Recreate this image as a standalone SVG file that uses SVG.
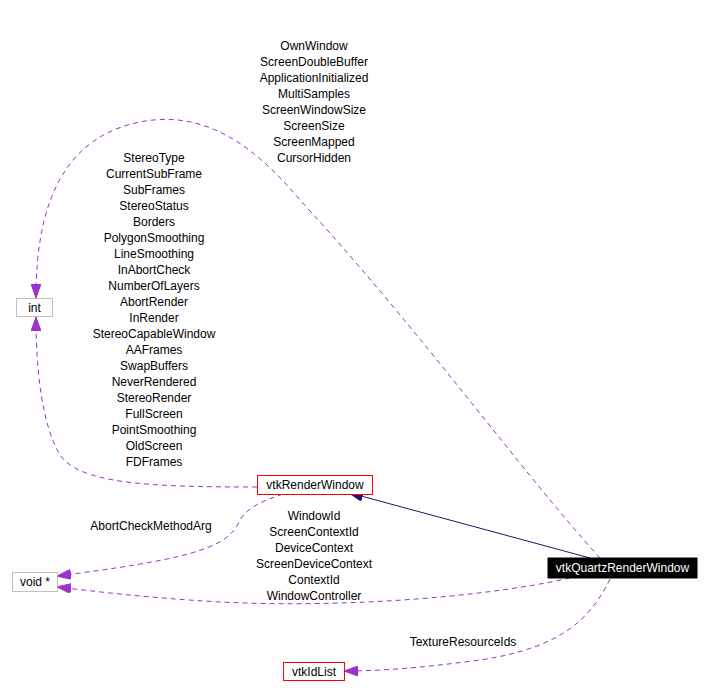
<svg xmlns="http://www.w3.org/2000/svg" width="712" height="697" viewBox="0 0 712 697">
<style>
text{font-family:"Liberation Sans",Arial,sans-serif;font-size:12px;fill:#000;text-anchor:middle}
.dep{fill:none;stroke:#9a32cd;stroke-width:1;stroke-dasharray:5,4}
.inh{fill:none;stroke:#191970;stroke-width:1}
.box{fill:#fff;stroke:#ff0000;stroke-width:1}
.gbox{fill:#fff;stroke:#bfbfbf;stroke-width:1}
</style>
<defs>
<marker id="pa" markerWidth="14" markerHeight="10" refX="13" refY="5" orient="auto" markerUnits="userSpaceOnUse">
<path d="M0,0 L14,5 L0,10 Z" fill="#9a32cd" stroke="#9a32cd"/>
</marker>
<marker id="na" markerWidth="14" markerHeight="10" refX="13" refY="5" orient="auto" markerUnits="userSpaceOnUse">
<path d="M0,0 L14,5 L0,10 Z" fill="#191970" stroke="#191970"/>
</marker>
</defs>
<rect width="712" height="697" fill="#fff"/>
<g id="connectors">
<path class="dep" marker-end="url(#pa)" d="M600,558 C520,470 420,330 300,200 C250,140 200,110 140,122 C60,138 36,210 36,297"/>
<path class="dep" marker-end="url(#pa)" d="M257,487 C150,487 80,484 60,455 C42,425 36,370 36,318"/>
<path class="dep" marker-end="url(#pa)" d="M283,494 C260,502 245,508 238,524 C225,550 180,560 58,576"/>
<path class="dep" marker-end="url(#pa)" d="M570,578 C480,598 340,608 220,602 C150,598 100,592 58,587"/>
<path class="inh" marker-end="url(#na)" d="M590,558 L350,493"/>
<path class="dep" marker-end="url(#pa)" d="M610,579 C590,620 560,648 480,660 C420,668 380,671 345,671"/>
</g>
<g id="labels">
<text x="314" y="50">OwnWindow</text>
<text x="314" y="66">ScreenDoubleBuffer</text>
<text x="314" y="82">ApplicationInitialized</text>
<text x="314" y="98">MultiSamples</text>
<text x="314" y="114">ScreenWindowSize</text>
<text x="314" y="130">ScreenSize</text>
<text x="314" y="146">ScreenMapped</text>
<text x="314" y="162">CursorHidden</text>
<text x="154" y="162">StereoType</text>
<text x="154" y="178">CurrentSubFrame</text>
<text x="154" y="194">SubFrames</text>
<text x="154" y="210">StereoStatus</text>
<text x="154" y="226">Borders</text>
<text x="154" y="242">PolygonSmoothing</text>
<text x="154" y="258">LineSmoothing</text>
<text x="154" y="274">InAbortCheck</text>
<text x="154" y="290">NumberOfLayers</text>
<text x="154" y="306">AbortRender</text>
<text x="154" y="322">InRender</text>
<text x="154" y="338">StereoCapableWindow</text>
<text x="154" y="354">AAFrames</text>
<text x="154" y="370">SwapBuffers</text>
<text x="154" y="386">NeverRendered</text>
<text x="154" y="402">StereoRender</text>
<text x="154" y="418">FullScreen</text>
<text x="154" y="434">PointSmoothing</text>
<text x="154" y="450">OldScreen</text>
<text x="154" y="466">FDFrames</text>
<text x="151" y="530">AbortCheckMethodArg</text>
<text x="314" y="520">WindowId</text>
<text x="314" y="536">ScreenContextId</text>
<text x="314" y="552">DeviceContext</text>
<text x="314" y="568">ScreenDeviceContext</text>
<text x="314" y="584">ContextId</text>
<text x="314" y="600">WindowController</text>
<text x="463" y="646">TextureResourceIds</text>
</g>
<g id="node-int">
<rect class="gbox" x="16.5" y="298.5" width="36" height="18"/>
<text x="34.5" y="312">int</text>
</g>
<g id="node-vtkRenderWindow">
<rect class="box" x="257.5" y="475.5" width="115" height="19"/>
<text x="315" y="489">vtkRenderWindow</text>
</g>
<g id="node-void">
<rect class="gbox" x="12.5" y="572.5" width="45" height="19"/>
<text x="35" y="586">void *</text>
</g>
<g id="node-vtkQuartzRenderWindow">
<rect x="548" y="558" width="149" height="20" fill="#000" stroke="#000"/>
<text x="622.5" y="572" style="fill:#fff">vtkQuartzRenderWindow</text>
</g>
<g id="node-vtkIdList">
<rect class="box" x="283.5" y="662.5" width="61" height="18"/>
<text x="314" y="676">vtkIdList</text>
</g>
</svg>
